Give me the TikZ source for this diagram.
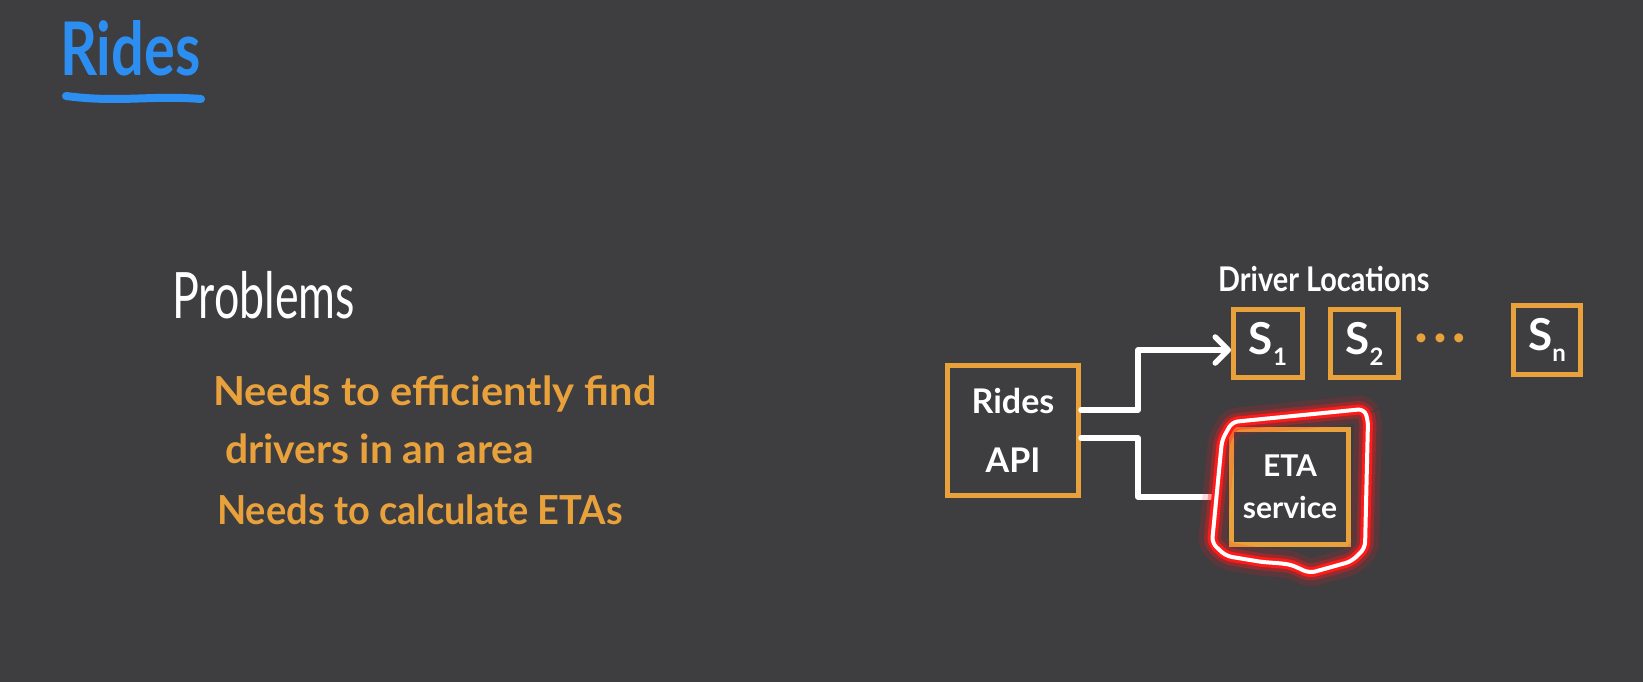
\documentclass[tikz,border=0pt]{standalone}
\usepackage{fontspec}
\setmainfont{Lato}
\usepackage{tikz}
\usetikzlibrary{arrows.meta,positioning}
\definecolor{slate}{HTML}{3E3D40}
\definecolor{amber}{HTML}{E9A23B}
\definecolor{skyblue}{HTML}{2B8EF0}
\definecolor{neonred}{HTML}{FF1A1A}
\newcommand{\shardsub}[1]{\raisebox{-11pt}{\fontsize{24}{24}\selectfont #1}}

\begin{document}
\begin{tikzpicture}[x=1pt,y=-1pt,>={Straight Barb[length=13pt,width=26pt,round]},
  box/.style={draw=amber,line width=5pt,inner sep=0pt,text=white},
  wire/.style={white,line width=5.5pt,line cap=round,line join=round},
  hand/.style={inner sep=0pt,anchor=base west},
  glow/.style={preaction={draw=neonred,opacity=.15,line width=28pt},
               preaction={draw=neonred,opacity=.35,line width=17pt},
               preaction={draw=neonred,line width=10pt},
               draw=white,line width=4pt,rounded corners=6pt}]
  \fill[slate] (0,0) rectangle (1643,682);
  \useasboundingbox (0,0) rectangle (1643,682);
  % heading
  \node[hand,skyblue,xscale=.78,font=\fontsize{74}{74}\selectfont\bfseries] (title) at (60,76) {Rides};
  \draw[skyblue,line width=8pt,line cap=round] (66,96) .. controls (120,103) and (150,95) .. (201,99);
  % problem list
  \node[hand,white,xscale=.7,font=\fontsize{64}{64}\selectfont] (problems) at (172,318) {Problems};
  \node[hand,amber,xscale=1.04,font=\fontsize{40}{40}\selectfont\bfseries] (needa) at (213,405) {Needs to efficiently find};
  \node[hand,amber,xscale=1.02,font=\fontsize{40}{40}\selectfont\bfseries] (needb) at (225,463) {drivers in an area};
  \node[hand,amber,xscale=.95,font=\fontsize{40}{40}\selectfont\bfseries] (needc) at (217,524) {Needs to calculate ETAs};
  % services
  \node[box,minimum width=131pt,minimum height=130pt,align=center,
        font=\fontsize{34}{59}\selectfont\bfseries] (api) at (1013,430.5) {Rides\\API};
  \node[box,minimum width=69pt,minimum height=68pt,font=\fontsize{44}{44}\selectfont\bfseries] (s1) at (1268,343.5) {S\shardsub{1}};
  \node[box,minimum width=68pt,minimum height=68pt,font=\fontsize{44}{44}\selectfont\bfseries,right=23pt of s1] (s2) {S\shardsub{2}};
  \node[amber,font=\fontsize{24}{24}\selectfont] (dots) at (1440,340) {\textbullet\hspace{5pt}\textbullet\hspace{5pt}\textbullet};
  \node[box,minimum width=67pt,minimum height=69pt,font=\fontsize{44}{44}\selectfont\bfseries] (sn) at (1547,340) {S\shardsub{n}};
  \node[hand,white,xscale=.85,font=\fontsize{34}{34}\selectfont\bfseries] (locs) at (1218,291) {Driver Locations};
  \node[box,minimum width=117pt,minimum height=115pt,align=center,
        font=\fontsize{30}{42}\selectfont\bfseries] (eta) at (1290,487) {ETA\\service};
  % calls
  \draw[wire,->] ([yshift=20.5pt]api.east) -- ++(57,0) |- ([yshift=-6.5pt]s1.west);
  \draw[wire,shorten >=18pt] ([yshift=-7.5pt]api.east) -- ++(57,0) |- ([yshift=-10pt]eta.west);
  % highlight
  \draw[glow] (1232,422) -- (1364,409) -- (1368,420) -- (1365,548) -- (1352,561)
    .. controls (1330,568) .. (1309,573) .. controls (1290,564) .. (1262,562)
    -- (1226,556) -- (1212,543) -- (1222,440) -- cycle;
\end{tikzpicture}
\end{document}
